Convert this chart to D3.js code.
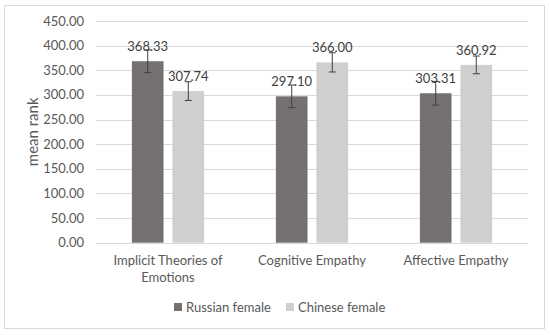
<!DOCTYPE html>
<html>
<head>
<meta charset="utf-8">
<script src="https://cdn.jsdelivr.net/npm/d3@7"></script>
<style>
    body { margin: 0; background: #ffffff; }
    svg { display: block; font-family: Lato, "Open Sans", sans-serif; }
</style>
</head>
<body>
<svg id="chart" width="550" height="335"></svg>
<script>
const categories = [["Implicit Theories of", "Emotions"], ["Cognitive Empathy"], ["Affective Empathy"]];
const seriesNames = ["Russian female", "Chinese female"];
const russianValues = [368.33, 297.10, 303.31];
const chineseValues = [307.74, 366.00, 360.92];
const russianErrors = [23, 23, 24];
const chineseErrors = [19, 19.5, 18];
const yTicks = [0, 50, 100, 150, 200, 250, 300, 350, 400, 450];

const seriesPaint = ["#767171", "#d0cece"];

const box = { left: 96, right: 528, top: 21, bottom: 242.7 };

const svg = d3.select("#chart");

// light frame around the whole chart
svg.append("rect")
    .attr("x", 4.5)
    .attr("y", 5.5)
    .attr("width", 540)
    .attr("height", 323)
    .attr("fill", "#ffffff")
    .attr("stroke", "#d9d9d9");

const x = d3.scaleBand()
    .domain(d3.range(categories.length))
    .range([box.left, box.right]);

const xInner = d3.scaleBand()
    .domain(d3.range(seriesNames.length))
    .range([0, x.bandwidth()])
    .paddingInner(0.22)
    .paddingOuter(0.885);

const y = d3.scaleLinear()
    .domain([0, 450])
    .range([box.bottom, box.top]);

// horizontal gridlines
svg.append("g")
    .selectAll("line")
    .data(yTicks)
    .join("line")
    .attr("x1", box.left)
    .attr("x2", box.right)
    .attr("y1", d => Math.round(y(d)) + 0.5)
    .attr("y2", d => Math.round(y(d)) + 0.5)
    .attr("stroke", "#d9d9d9");

svg.append("g")
    .selectAll("text")
    .data(yTicks)
    .join("text")
    .attr("x", 84)
    .attr("y", d => y(d))
    .attr("dy", "0.35em")
    .attr("text-anchor", "end")
    .attr("font-size", 13)
    .attr("fill", "#595959")
    .text(d => d.toFixed(2));

svg.append("text")
    .attr("transform", `translate(38,${(box.top + box.bottom) / 2}) rotate(-90)`)
    .attr("text-anchor", "middle")
    .attr("font-size", 15)
    .attr("fill", "#595959")
    .text("mean rank");

const rows = categories.map((cat, i) => ({
    index: i,
    values: [
        { s: 0, value: russianValues[i], err: russianErrors[i] },
        { s: 1, value: chineseValues[i], err: chineseErrors[i] }
    ]
}));

const groups = svg.append("g")
    .selectAll("g")
    .data(rows)
    .join("g")
    .attr("transform", d => `translate(${x(d.index)},0)`);

groups.selectAll("rect")
    .data(d => d.values)
    .join("rect")
    .attr("x", d => xInner(d.s))
    .attr("y", d => y(d.value))
    .attr("width", xInner.bandwidth())
    .attr("height", d => y(0) - y(d.value))
    .attr("fill", d => seriesPaint[d.s]);

// error bars with small caps
const err = groups.selectAll(".err")
    .data(d => d.values)
    .join("g")
    .attr("class", "err")
    .attr("stroke", "#404040")
    .attr("stroke-width", 1);

err.append("line")
    .attr("x1", d => xInner(d.s) + xInner.bandwidth() / 2)
    .attr("x2", d => xInner(d.s) + xInner.bandwidth() / 2)
    .attr("y1", d => y(d.value + d.err))
    .attr("y2", d => y(d.value - d.err));

err.selectAll(".cap")
    .data(d => [d.value + d.err, d.value - d.err].map(v => ({ s: d.s, v })))
    .join("line")
    .attr("class", "cap")
    .attr("x1", d => xInner(d.s) + xInner.bandwidth() / 2 - 3.5)
    .attr("x2", d => xInner(d.s) + xInner.bandwidth() / 2 + 3.5)
    .attr("y1", d => y(d.v))
    .attr("y2", d => y(d.v));

groups.selectAll(".val")
    .data(d => d.values)
    .join("text")
    .attr("class", "val")
    .attr("x", d => xInner(d.s) + xInner.bandwidth() / 2)
    .attr("y", d => y(d.value) - 10)
    .attr("text-anchor", "middle")
    .attr("font-size", 13)
    .attr("fill", "#404040")
    .text(d => d.value.toFixed(2));

// category labels, wrapped like the original
svg.append("g")
    .selectAll("text")
    .data(categories)
    .join("text")
    .attr("x", (d, i) => x(i) + x.bandwidth() / 2)
    .attr("y", 265)
    .attr("text-anchor", "middle")
    .attr("font-size", 13)
    .attr("fill", "#595959")
    .selectAll("tspan")
    .data(d => d)
    .join("tspan")
    .attr("x", function () { return this.parentNode.getAttribute("x"); })
    .attr("dy", (d, i) => i === 0 ? 0 : 16.5)
    .text(d => d);

// legend
const legendX = [174, 286];
const legend = svg.append("g")
    .selectAll("g")
    .data(seriesNames)
    .join("g")
    .attr("transform", (d, i) => `translate(${legendX[i]},303)`);

legend.append("rect")
    .attr("width", 8)
    .attr("height", 8)
    .attr("fill", (d, i) => seriesPaint[i]);

legend.append("text")
    .attr("x", 12)
    .attr("y", 4)
    .attr("dy", "0.35em")
    .attr("font-size", 13)
    .attr("fill", "#595959")
    .text(d => d);
</script>
</body>
</html>
